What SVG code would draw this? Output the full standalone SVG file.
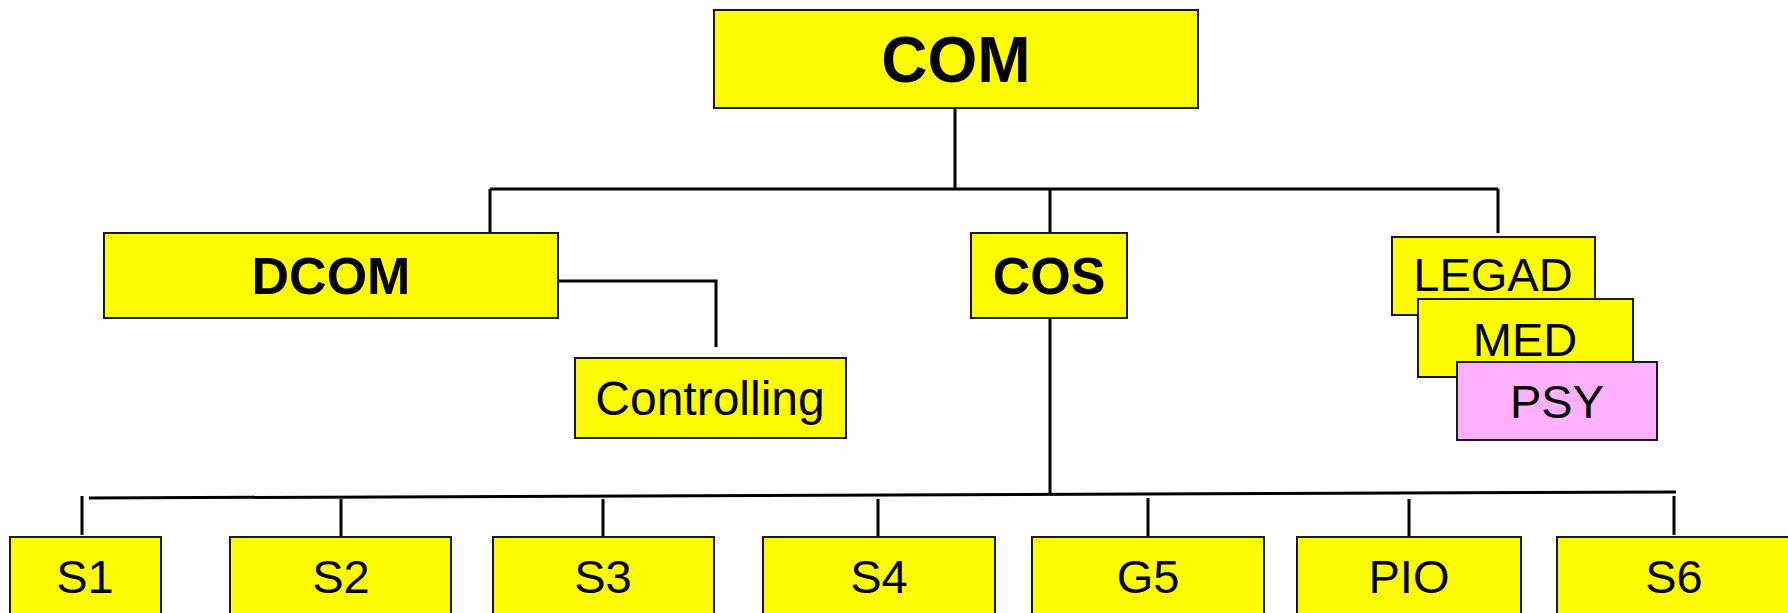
<svg xmlns="http://www.w3.org/2000/svg" width="1788" height="613" viewBox="0 0 1788 613">
<style>
.box{fill:#FFFC00;stroke:#1a1a1a;stroke-width:2}
.pink{fill:#FFB0FF;stroke:#1a1a1a;stroke-width:2}
.t{font-family:"Liberation Sans",Arial,sans-serif;fill:#000;text-anchor:middle}
.b{font-weight:bold}
.ln{stroke:#000;stroke-width:3;fill:none}
</style>
<rect width="1788" height="613" fill="#fff"/>
<g id="connectors">
<path class="ln" d="M955 108V189M490 189H1498M490 189V233M1050 189V233M1498 189V233"/>
<path class="ln" d="M558 281H716V347"/>
<path class="ln" d="M1050 318V493"/>
<path class="ln" stroke-width="4" d="M89 498L1676 492"/>
<path class="ln" d="M82 496V535M341 499V537M603 499V537M878 499V537M1148 498V537M1409 499V538M1674 496V535"/>
</g>
<g id="COM"><rect class="box" x="714" y="10" width="484" height="98"/><text class="t b" x="956" y="82" font-size="64">COM</text></g>
<g id="DCOM"><rect class="box" x="104" y="233" width="454" height="85"/><text class="t b" x="331" y="294" font-size="52">DCOM</text></g>
<g id="Controlling"><rect class="box" x="575" y="358" width="271" height="80"/><text class="t" x="710" y="415" font-size="48">Controlling</text></g>
<g id="COS"><rect class="box" x="971" y="233" width="156" height="85"/><text class="t b" x="1049" y="294" font-size="52">COS</text></g>
<g id="LEGAD"><rect class="box" x="1392" y="237" width="203" height="78"/><text class="t" x="1493" y="291" font-size="47">LEGAD</text></g>
<g id="MED"><rect class="box" x="1418" y="299" width="215" height="78"/><text class="t" x="1525" y="356" font-size="47">MED</text></g>
<g id="PSY"><rect class="pink" x="1457" y="362" width="200" height="78"/><text class="t" x="1557" y="418" font-size="47">PSY</text></g>
<g id="S1"><rect class="box" x="10" y="537" width="151" height="90"/><text class="t" x="85" y="593" font-size="47">S1</text></g>
<g id="S2"><rect class="box" x="230" y="537" width="221" height="90"/><text class="t" x="341" y="593" font-size="47">S2</text></g>
<g id="S3"><rect class="box" x="493" y="537" width="221" height="90"/><text class="t" x="603" y="593" font-size="47">S3</text></g>
<g id="S4"><rect class="box" x="763" y="537" width="232" height="90"/><text class="t" x="879" y="593" font-size="47">S4</text></g>
<g id="G5"><rect class="box" x="1032" y="537" width="232" height="90"/><text class="t" x="1148" y="593" font-size="47">G5</text></g>
<g id="PIO"><rect class="box" x="1297" y="537" width="224" height="90"/><text class="t" x="1409" y="593" font-size="47">PIO</text></g>
<g id="S6"><rect class="box" x="1557" y="537" width="240" height="90"/><text class="t" x="1674" y="593" font-size="47">S6</text></g>
</svg>
